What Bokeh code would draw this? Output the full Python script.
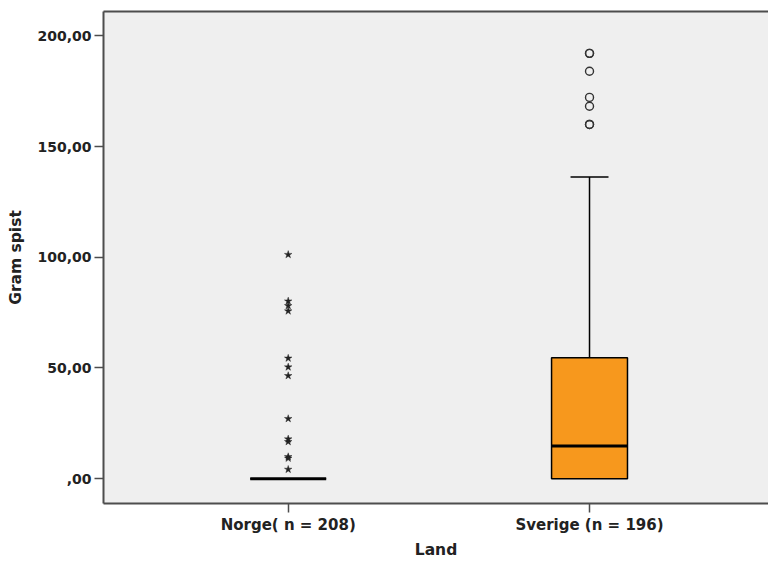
from bokeh.plotting import figure
from bokeh.models import Range1d, FixedTicker, LinearAxis
from bokeh.embed import file_html
from bokeh.resources import INLINE

# Box-plot summary per country (grams eaten)
countries = ["Norge( n = 208)", "Sverige (n = 196)"]
positions = [1, 2]
q1 = [0.0, 0.0]
median = [0.0, 14.8]
q3 = [0.0, 54.6]
whisker_low = [0.0, 0.0]
whisker_high = [0.0, 136.2]

# Extreme values (Norge) and outliers (Sverige)
norge_extremes = [101.2, 80.2, 78.1, 75.7, 54.4, 50.4, 46.5, 27.1, 17.9, 16.7, 9.9, 9.2, 4.2]
sverige_outliers = [192.1, 192.1, 184.0, 172.2, 168.2, 160.0, 160.0]

y_ticks = [0, 50, 100, 150, 200]
y_tick_labels = [",00", "50,00", "100,00", "150,00", "200,00"]

BOX_W = 0.252
CAP_W = 0.126
FRAME_COL = "#4d4d4d"
TEXT_COL = "#222222"
FONT = "DejaVu Sans"

p = figure(
    frame_width=665, frame_height=492,
    min_border_left=103, min_border_right=0, min_border_top=11, min_border_bottom=58,
    x_range=Range1d(0.387, 2.594), y_range=Range1d(-11.2, 211.0),
    output_backend="svg", toolbar_location=None,
    background_fill_color="#EFEFEF", border_fill_color="white",
)
p.outline_line_color = None
p.xgrid.visible = False
p.ygrid.visible = False

# axes
for ax in (p.xaxis[0], p.yaxis[0]):
    ax.axis_line_color = FRAME_COL
    ax.axis_line_width = 2
    ax.major_tick_line_color = FRAME_COL
    ax.major_tick_line_width = 1.5
    ax.major_tick_in = 0
    ax.major_tick_out = 9
    ax.minor_tick_out = 0
    ax.major_label_text_font = FONT
    ax.major_label_text_font_style = "bold"
    ax.major_label_text_color = TEXT_COL
    ax.axis_label_text_font = FONT
    ax.axis_label_text_font_style = "bold"
    ax.axis_label_text_color = TEXT_COL
    ax.axis_label_text_font_size = "15.5px"

p.xaxis.ticker = FixedTicker(ticks=positions)
p.xaxis.major_label_overrides = {pos: name for pos, name in zip(positions, countries)}
p.xaxis.major_label_text_font_size = "15px"
p.xaxis.major_label_standoff = 3
p.xaxis.axis_label = "Land"
p.xaxis.axis_label_standoff = 4

p.yaxis.ticker = FixedTicker(ticks=y_ticks)
p.yaxis.major_label_overrides = {t: lab for t, lab in zip(y_ticks, y_tick_labels)}
p.yaxis.major_label_text_font_size = "14px"
p.yaxis.major_label_standoff = 3
p.yaxis.axis_label = "Gram spist"
p.yaxis.axis_label_standoff = 9

# top frame line
top = LinearAxis(ticker=FixedTicker(ticks=[]), major_tick_out=0, minor_tick_out=0,
                 major_label_standoff=0, axis_label_standoff=0,
                 major_label_text_font_size="0px",
                 axis_line_color=FRAME_COL, axis_line_width=2)
p.add_layout(top, "above")

# whiskers and caps
p.segment(x0=positions, y0=q3, x1=positions, y1=whisker_high, line_color="black", line_width=1.5)
p.segment(x0=positions, y0=q1, x1=positions, y1=whisker_low, line_color="black", line_width=1.5)
caps_left = [x - CAP_W / 2 for x in positions]
caps_right = [x + CAP_W / 2 for x in positions]
p.segment(x0=caps_left, y0=whisker_high, x1=caps_right, y1=whisker_high, line_color="black", line_width=1.5)

# boxes
p.vbar(x=positions, width=BOX_W, bottom=q1, top=q3,
       fill_color="#F7981D", line_color="black", line_width=1.5)

# medians
med_left = [x - BOX_W / 2 for x in positions]
med_right = [x + BOX_W / 2 for x in positions]
p.segment(x0=med_left, y0=median, x1=med_right, y1=median, line_color="black", line_width=3)

# extremes and outliers
p.scatter(x=[positions[0]] * len(norge_extremes), y=norge_extremes, marker="star",
          size=8, fill_color="#222222", line_color="#222222", line_width=0.4)
p.scatter(x=[positions[1]] * len(sverige_outliers), y=sverige_outliers, marker="circle",
          size=8, fill_color=None, line_color="#333333", line_width=1.4)

open("out.html", "w").write(file_html(p, INLINE))
